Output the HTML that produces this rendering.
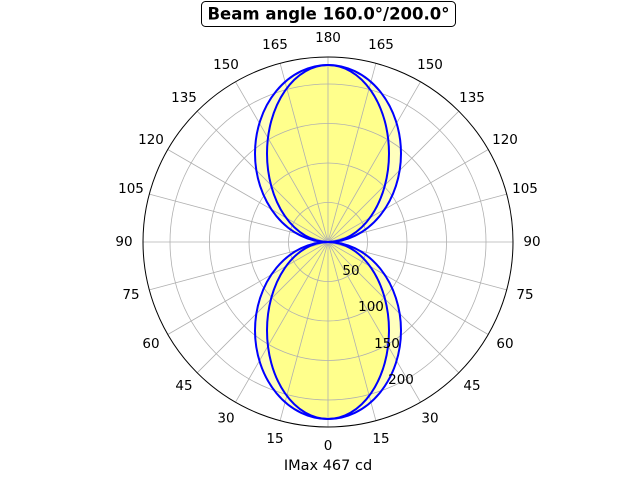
<!DOCTYPE html>
<html><head><meta charset="utf-8"><style>
html,body{margin:0;padding:0;background:#fff;}
svg{display:block;font-family:"DejaVu Sans","Liberation Sans",sans-serif;}
</style></head><body>
<svg id="s" width="640" height="480" viewBox="0 0 640 480" xmlns="http://www.w3.org/2000/svg">
<rect width="640" height="480" fill="#fff"/>
<g fill="#ffff00" fill-opacity="0.26" stroke="none">
<ellipse cx="328" cy="153.5" rx="73" ry="88.5"/>
<ellipse cx="328" cy="153.5" rx="61" ry="88.5"/>
<ellipse cx="328" cy="330.5" rx="73" ry="88.5"/>
<ellipse cx="328" cy="330.5" rx="61" ry="88.5"/>
</g>
<g id="grid" stroke="#b0b0b0" stroke-width="0.8" fill="none">
<circle cx="328" cy="242" r="39.5"/>
<circle cx="328" cy="242" r="79"/>
<circle cx="328" cy="242" r="118.5"/>
<circle cx="328" cy="242" r="158"/>
</g>
<g id="spokes" stroke="#b0b0b0" stroke-width="0.8"></g>
<g stroke="#0000ff" stroke-width="2" fill="none">
<ellipse cx="328" cy="153.5" rx="73" ry="88.5"/>
<ellipse cx="328" cy="153.5" rx="61" ry="88.5"/>
<ellipse cx="328" cy="330.5" rx="73" ry="88.5"/>
<ellipse cx="328" cy="330.5" rx="61" ry="88.5"/>
</g>
<circle cx="328" cy="242" r="185" fill="none" stroke="#000" stroke-width="1"/>
<g font-size="13.5" text-anchor="middle" dominant-baseline="central" fill="#000">
<text x="328" y="446">0</text>
<text x="275" y="439">15</text><text x="381" y="439">15</text>
<text x="226" y="418.7">30</text><text x="430" y="418.7">30</text>
<text x="184" y="386">45</text><text x="472" y="386">45</text>
<text x="151" y="344">60</text><text x="505" y="344">60</text>
<text x="131" y="295">75</text><text x="525" y="295">75</text>
<text x="124" y="242">90</text><text x="532" y="242">90</text>
<text x="131" y="189">105</text><text x="525" y="189">105</text>
<text x="151" y="140">120</text><text x="505" y="140">120</text>
<text x="184" y="98">135</text><text x="472" y="98">135</text>
<text x="226" y="65">150</text><text x="430" y="65">150</text>
<text x="275" y="45">165</text><text x="381" y="45">165</text>
<text x="328" y="38">180</text>
<text x="351" y="271">50</text>
<text x="371" y="307">100</text>
<text x="387" y="344">150</text>
<text x="401" y="380">200</text>
</g>
<text x="328" y="466" font-size="14.5" text-anchor="middle" dominant-baseline="central">IMax 467 cd</text>
<rect x="201.5" y="1.5" width="254" height="25" rx="4" fill="#fff" stroke="#000" stroke-width="1"/>
<text x="328.5" y="14" font-size="16.5" font-weight="bold" text-anchor="middle" dominant-baseline="central">Beam angle 160.0°/200.0°</text>
</svg>
<script>
var g=document.getElementById('spokes'),h='';
for(var i=0;i<24;i++){var a=i*15*Math.PI/180;h+='<line x1="328" y1="242" x2="'+(328+185*Math.sin(a))+'" y2="'+(242+185*Math.cos(a))+'"/>';}
g.innerHTML=h;
</script>
</body></html>
